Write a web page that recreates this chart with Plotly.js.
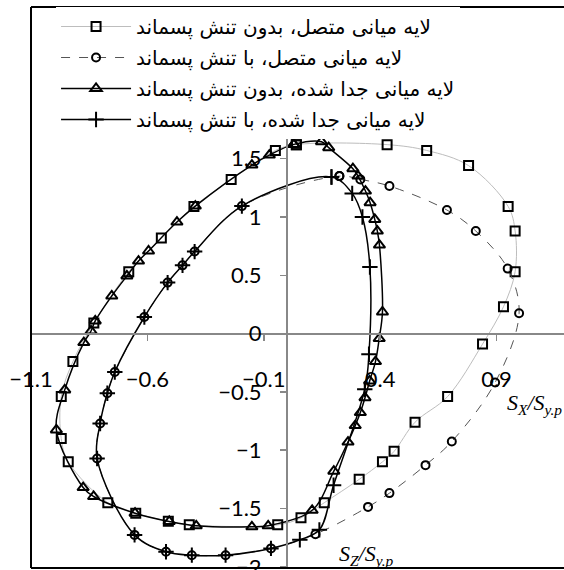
<!DOCTYPE html>
<html>
<head>
<meta charset="utf-8">
<script src="https://cdn.plot.ly/plotly-3.0.1.min.js"></script>
<style>
  html, body { margin: 0; padding: 0; background: #fff; overflow: hidden; }
  #chart { width: 564px; height: 570px; }
</style>
</head>
<body>
<div id="chart"></div>
<script>
// series names (legend)
var names = [
  'لایه میانی متصل، بدون تنش پسماند',
  'لایه میانی متصل، با تنش پسماند',
  'لایه میانی جدا شده، بدون تنش پسماند',
  'لایه میانی جدا شده، با تنش پسماند'
];

// squares: connected, no residual stress
var aX = [0.04, 0.43, 0.6, 0.78, 0.95, 0.98, 0.98, 0.93, 0.84, 0.69, 0.55, 0.46, 0.41, 0.31, 0.16, 0.06, -0.04, -0.42, -0.51, -0.65, -0.77, -0.94, -0.97, -0.97, -0.92, -0.83, -0.68, -0.54, -0.4, -0.24, -0.05, 0.04];
var aY = [1.62, 1.62, 1.57, 1.44, 1.09, 0.88, 0.53, 0.23, -0.09, -0.54, -0.76, -1.01, -1.1, -1.25, -1.45, -1.58, -1.64, -1.64, -1.61, -1.54, -1.45, -1.1, -0.9, -0.54, -0.24, 0.09, 0.53, 0.82, 1.09, 1.32, 1.57, 1.62];

// circles: connected, with residual stress
var bX = [0.225, 0.315, 0.44, 0.687, 0.811, 0.948, 0.997, 0.894, 0.708, 0.595, 0.44, 0.348, 0.122, -0.069, -0.264, -0.409, -0.52, -0.655, -0.816, -0.803, -0.772, -0.74, -0.613, -0.513, -0.449, -0.397, -0.194, 0.225];
var bY = [1.35, 1.322, 1.265, 1.059, 0.879, 0.557, 0.174, -0.42, -0.925, -1.128, -1.368, -1.486, -1.72, -1.842, -1.9, -1.9, -1.871, -1.726, -1.071, -0.771, -0.512, -0.329, 0.142, 0.437, 0.585, 0.703, 1.093, 1.35];

// triangles: separated, no residual stress
var cX = [0.029, 0.148, 0.179, 0.283, 0.305, 0.337, 0.357, 0.377, 0.388, 0.397, 0.41, 0.396, 0.38, 0.355, 0.335, 0.315, 0.293, 0.262, 0.201, 0.108, -0.081, -0.151, -0.39, -0.506, -0.653, -0.831, -0.876, -0.991, -0.955, -0.873, -0.842, -0.824, -0.753, -0.688, -0.638, -0.595, -0.473, -0.394, -0.151, -0.076, 0.029];
var cY = [1.622, 1.645, 1.594, 1.414, 1.35, 1.222, 1.122, 0.979, 0.879, 0.759, 0.185, -0.043, -0.24, -0.406, -0.55, -0.677, -0.789, -0.93, -1.18, -1.515, -1.648, -1.657, -1.648, -1.611, -1.54, -1.397, -1.32, -0.826, -0.483, -0.077, 0.022, 0.108, 0.322, 0.494, 0.622, 0.708, 0.956, 1.093, 1.445, 1.53, 1.622];

// plus: separated, with residual stress
var dX = [0.191, 0.28, 0.324, 0.356, 0.352, 0.334, 0.2, 0.139, 0.055, -0.069, -0.264, -0.409, -0.52, -0.655, -0.816, -0.803, -0.772, -0.74, -0.613, -0.513, -0.449, -0.397, -0.194, 0.191];
var dY = [1.342, 1.202, 0.999, 0.571, -0.177, -0.477, -1.3, -1.683, -1.768, -1.842, -1.9, -1.9, -1.871, -1.726, -1.071, -0.771, -0.512, -0.329, 0.142, 0.437, 0.585, 0.703, 1.093, 1.342];

var xTicks = [-1.1, -0.6, -0.1, 0.4, 0.9];
var yTicks = [1.5, 1, 0.5, 0, -0.5, -1, -1.5, -2];
var xRange = [-1.1, 1.19];
var yRange = [-2.01, 2.8];

function trace(x, y, i, sym, size, lineColor, dash, lw) {
  return {
    x: x, y: y, name: names[i], legendgroup: 'g' + i,
    type: 'scatter', mode: 'lines+markers',
    line: {color: lineColor, width: lw, dash: dash, shape: 'spline', smoothing: 1},
    marker: {symbol: sym, size: size, color: '#000', line: {color: '#000', width: 2}}
  };
}

var data = [
  trace(aX, aY, 0, 'square-open', 9, '#bdbdbd', 'solid', 1),
  trace(bX, bY, 1, 'circle-open', 8, '#555', 'dash', 1),
  trace(cX, cY, 2, 'triangle-up-open', 10, '#000', 'solid', 1.5),
  trace(dX, dY, 3, 'cross-thin-open', 11, '#000', 'solid', 1.5)
];

var tickFont = {family: 'Lato, "Open Sans", sans-serif', size: 22, color: '#000'};
var titleFont = {family: '"Liberation Serif", serif', size: 22, color: '#000'};

var layout = {
  width: 564,
  height: 570,
  margin: {l: 31, r: 0, t: 7, b: 2, autoexpand: false},
  paper_bgcolor: '#fff',
  plot_bgcolor: '#fff',
  showlegend: true,
  hovermode: false,
  xaxis: {
    range: xRange, anchor: 'free',
    position: (0 - yRange[0]) / (yRange[1] - yRange[0]),
    showgrid: false, zeroline: false,
    showline: true, linecolor: '#888', linewidth: 2,
    ticks: 'outside', ticklen: 6, tickwidth: 1.5, tickcolor: '#888',
    tickvals: xTicks, tickfont: tickFont, ticklabelstandoff: 20,
    ticklabeloverflow: 'allow'
  },
  yaxis: {
    range: yRange, anchor: 'free',
    position: (0 - xRange[0]) / (xRange[1] - xRange[0]),
    showgrid: false, zeroline: false,
    showline: true, linecolor: '#888', linewidth: 2,
    ticks: 'outside', ticklen: 6, tickwidth: 1.5, tickcolor: '#888',
    tickvals: yTicks, tickfont: tickFont, ticklabelstandoff: 14,
    ticklabeloverflow: 'allow'
  },
  legend: {
    x: 0.047, xanchor: 'left', y: 1.0, yanchor: 'top',
    bgcolor: '#fff', borderwidth: 0,
    traceorder: 'grouped', tracegroupgap: 2, itemwidth: 70,
    font: {family: '"DejaVu Sans", sans-serif', size: 20, color: '#000'}
  },
  shapes: [
    {type: 'line', xref: 'paper', yref: 'paper', x0: 0, x1: 0, y0: 0, y1: 1, line: {color: '#000', width: 2}},
    {type: 'line', xref: 'paper', yref: 'paper', x0: 0, x1: 1, y0: 1, y1: 1, line: {color: '#000', width: 2}},
    {type: 'line', xref: 'paper', yref: 'paper', x0: 0, x1: 1, y0: 0, y1: 0, line: {color: '#000', width: 2}}
  ],
  annotations: [
    {x: 0.935, y: -0.6, xref: 'x', yref: 'y', xanchor: 'left', showarrow: false,
     text: '<i>S<sub>X</sub>/S<sub>y.p</sub></i>', font: titleFont},
    {x: 0.215, y: -1.9, xref: 'x', yref: 'y', xanchor: 'left', showarrow: false,
     text: '<i>S<sub>Z</sub>/S<sub>y.p</sub></i>', font: titleFont}
  ]
};

Plotly.newPlot('chart', data, layout, {displayModeBar: false, staticPlot: true});
</script>
</body>
</html>
